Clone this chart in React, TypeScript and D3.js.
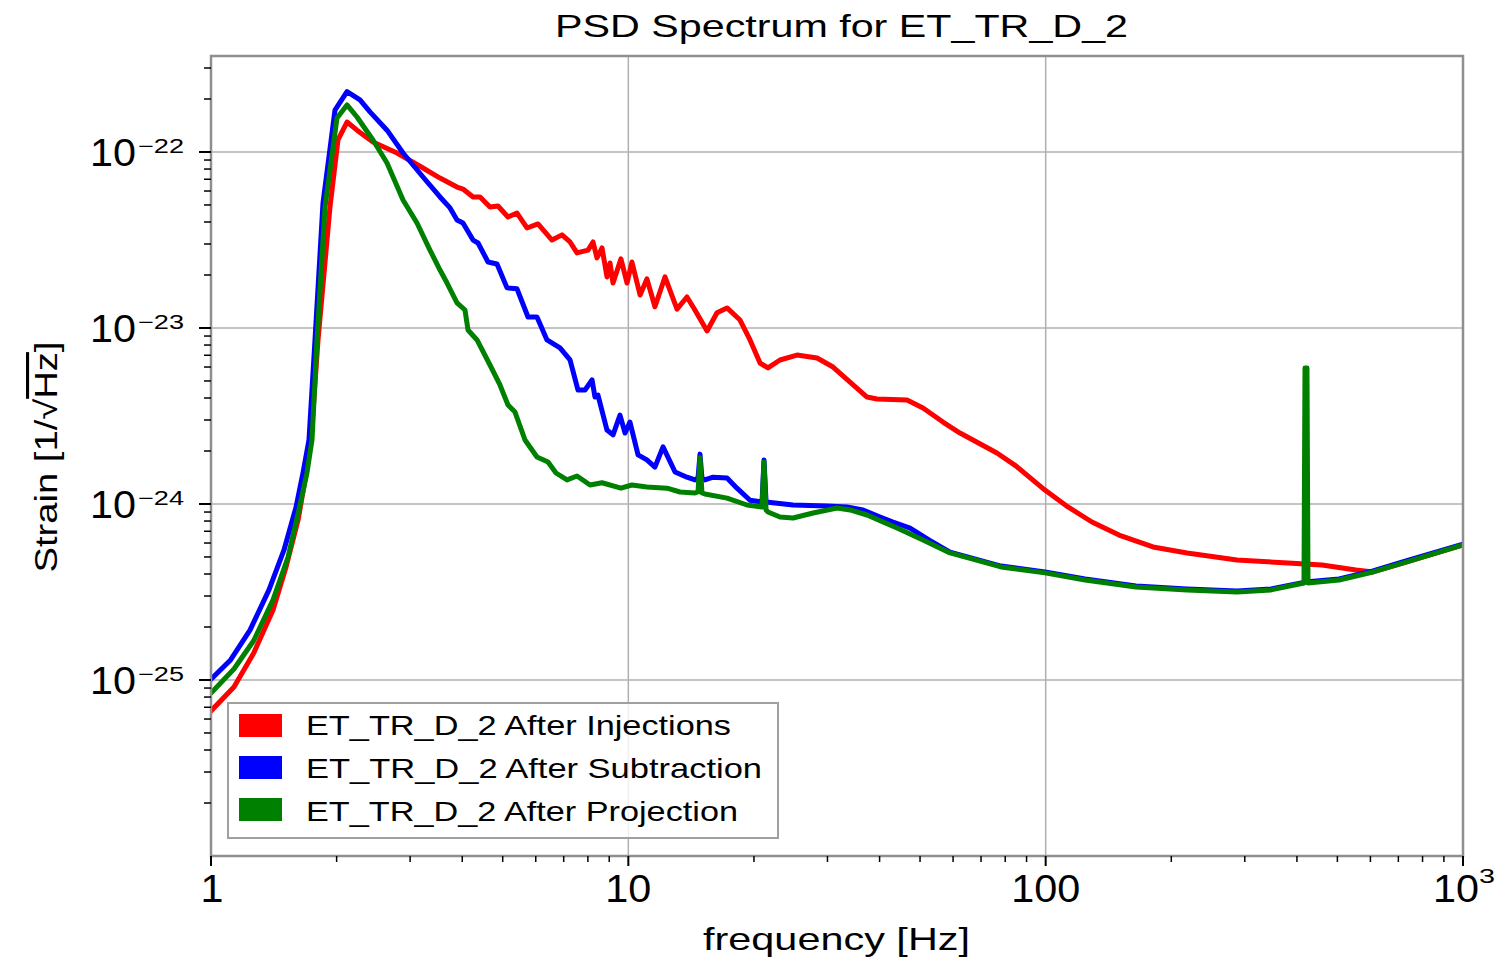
import React from "react";
import * as d3 from "d3";

// ---- Data (frequency in Hz, amplitude spectral density in units of 1e-24 / sqrt(Hz)) ----
const UNIT = 1e-24;

const redFreq = [1.00,1.135,1.265,1.408,1.513,1.617,1.68,1.736,1.805,1.928,2.015,2.118,2.238,2.444,2.791,3.221,3.538,3.886,4.016,4.245,4.412,4.661,4.872,5.149,5.411,5.717,6.074,6.563,6.935,7.249,7.534,8.006,8.23,8.411,8.65,8.889,9.04,9.19,9.60,9.93,10.20,10.67,11.08,11.58,12.24,13.08,13.82,14.44,15.44,16.31,17.24,18.52,19.57,20.68,21.61,23.09,25.36,28.33,30.94,33.98,37.32,39.44,46.54,50.83,56.75,62.34,76.43,85.0,99.6,113.1,129.1,149.9,180.8,218.2,287.4,380.8,459.4,554.1,608.6,730,1000];
const redAsd = [0.0667,0.0912,0.142,0.25,0.439,0.811,1.37,2.31,8.55,48.7,117,148,133,114,98.7,81.1,71.1,63.2,61.6,55.5,55.5,48.7,49.3,42.7,45.0,37.0,39.0,31.6,33.8,30.8,26.7,27.7,30.8,25.0,28.5,19.5,23.4,18.0,24.7,18.0,23.7,15.4,19.0,13.2,19.5,12.8,15.0,12.65,9.62,12.2,13.0,11.1,8.55,6.32,5.93,6.58,7.02,6.75,6.00,4.93,4.05,3.95,3.90,3.51,2.92,2.53,1.95,1.64,1.20,0.962,0.790,0.666,0.570,0.527,0.481,0.462,0.450,0.422,0.411,0.468,0.585];

const blueFreq = [1.00,1.114,1.24,1.377,1.496,1.599,1.661,1.717,1.775,1.855,1.982,2.118,2.275,2.404,2.641,2.885,3.221,3.538,3.739,3.886,4.016,4.245,4.364,4.611,4.845,5.121,5.411,5.749,6.041,6.384,6.859,7.249,7.576,7.874,8.185,8.32,8.457,8.889,9.19,9.55,9.82,10.09,10.55,11.08,11.58,12.11,12.94,13.82,14.44,14.69,14.85,15.01,15.26,15.96,17.24,18.21,19.57,20.91,21.14,21.38,24.81,29.94,33.42,36.5,40.10,43.08,47.32,52.5,58.99,78.17,99.6,124.3,164.6,218.2,287.4,346.7,418.2,504.7,608.6,730,1000];
const blueAsd = [0.101,0.130,0.192,0.325,0.548,0.962,1.50,2.31,8.55,51.3,173,220,197.5,169,133,98.7,72.1,55.5,48.1,41.1,39.5,31.6,30.4,23.7,23.1,16.9,16.7,11.55,11.55,8.55,7.70,6.58,4.44,4.44,5.07,4.05,4.16,2.63,2.47,3.20,2.53,2.92,1.90,1.78,1.62,2.11,1.52,1.42,1.37,1.405,1.92,1.405,1.37,1.42,1.405,1.23,1.05,1.026,1.78,1.026,0.987,0.974,0.962,0.925,0.844,0.790,0.730,0.6245,0.533,0.444,0.411,0.375,0.342,0.329,0.320,0.329,0.360,0.375,0.417,0.475,0.592];

const greenFreq = [1.00,1.135,1.265,1.408,1.53,1.630,1.698,1.746,1.795,1.876,2.004,2.118,2.238,2.444,2.641,2.885,3.116,3.347,3.538,3.678,3.886,4.061,4.129,4.34,4.661,4.925,5.149,5.351,5.655,6.041,6.42,6.71,7.13,7.534,8.095,8.65,9.60,10.20,11.08,12.38,13.30,14.44,14.69,14.85,15.01,15.26,17.24,19.25,20.91,21.14,21.38,21.61,23.09,24.81,27.71,31.63,33.98,37.32,40.77,44.04,50.83,58.99,78.17,99.6,124.3,164.6,218.2,287.4,346.7,415.9,418.2,422.8,425.2,504.7,608.6,730,1000];
const greenAsd = [0.0843,0.1155,0.167,0.285,0.5,0.962,1.50,2.31,8.55,48.7,156,185,158,117,86.6,53.4,39.5,27.7,21.35,18.0,13.9,12.65,9.74,8.55,6.16,4.745,3.65,3.33,2.31,1.85,1.73,1.50,1.37,1.443,1.282,1.32,1.23,1.282,1.25,1.23,1.17,1.155,1.17,1.83,1.155,1.14,1.08,0.987,0.962,1.73,0.925,0.901,0.844,0.833,0.889,0.949,0.925,0.866,0.790,0.730,0.6245,0.527,0.439,0.406,0.370,0.338,0.325,0.316,0.325,0.356,5.93,5.93,0.356,0.370,0.411,0.468,0.585];

const seriesNames = [
  "ET_TR_D_2 After Injections",
  "ET_TR_D_2 After Subtraction",
  "ET_TR_D_2 After Projection",
];
const seriesColors = ["#ff0000", "#0000ff", "#008000"];

const xTickLabels = [
  { v: 1, base: "1", sup: "" },
  { v: 10, base: "10", sup: "" },
  { v: 100, base: "100", sup: "" },
  { v: 1000, base: "10", sup: "3" },
];
const yTickExponents = [-22, -23, -24, -25];

const X_MIN = 1, X_MAX = 1000;
const Y_MIN = 1e-26, Y_MAX = 3.51e-22;

const FONT = "'Liberation Sans', Arial, Helvetica, sans-serif";

export default function App() {
  const W = 1501, H = 962;
  const L = 211, R = 1463, T = 56, B = 856;

  const x = d3.scaleLog().domain([X_MIN, X_MAX]).range([L, R]);
  const y = d3.scaleLog().domain([Y_MIN, Y_MAX]).range([B, T]);

  const isMajor = (v: number) => Math.abs(Math.log10(v) - Math.round(Math.log10(v))) < 1e-6;

  const xTicks = x.ticks();
  const yTicks = y.ticks();

  const mk = (fs: number[], vs: number[]) => fs.map((f, i) => [f, vs[i] * UNIT] as [number, number]);
  const series = [mk(redFreq, redAsd), mk(blueFreq, blueAsd), mk(greenFreq, greenAsd)];

  const line = d3
    .line<[number, number]>()
    .x((d) => x(d[0]))
    .y((d) => y(d[1]));

  const legendX = 228, legendY = 703, legendW = 550, legendH = 135;
  const legendLens = [425, 456, 432];

  return (
    <svg
      width={W}
      height={H}
      style={{ position: "absolute", left: 0, top: 0, background: "#fff" }}
      fontFamily={FONT}
    >
      <rect x={0} y={0} width={W} height={H} fill="#fff" />
      <defs>
        <clipPath id="plotclip">
          <rect x={L} y={T} width={R - L} height={B - T} />
        </clipPath>
      </defs>

      {/* grid */}
      <g stroke="#b0b0b0" strokeWidth={1.5}>
        {xTicks.filter(isMajor).map((t) => (
          <line key={"gx" + t} x1={x(t)} x2={x(t)} y1={T} y2={B} />
        ))}
        {yTicks.filter(isMajor).map((t) => (
          <line key={"gy" + t} x1={L} x2={R} y1={y(t)} y2={y(t)} />
        ))}
      </g>

      {/* series */}
      <g clipPath="url(#plotclip)" fill="none" strokeLinejoin="round" strokeLinecap="round">
        {series.map((s, i) => (
          <path key={i} d={line(s) || ""} stroke={seriesColors[i]} strokeWidth={5} />
        ))}
      </g>

      {/* frame */}
      <rect x={L} y={T} width={R - L} height={B - T} fill="none" stroke="#8f8f8f" strokeWidth={2.5} />

      {/* ticks */}
      <g stroke="#000">
        {xTicks.map((t) => (
          <line
            key={"tx" + t}
            x1={x(t)}
            x2={x(t)}
            y1={B}
            y2={B + (isMajor(t) ? 10 : 6)}
            strokeWidth={isMajor(t) ? 2 : 1.5}
          />
        ))}
        {yTicks.map((t) => (
          <line
            key={"ty" + t}
            x1={L}
            x2={L - (isMajor(t) ? 12 : 7)}
            y1={y(t)}
            y2={y(t)}
            strokeWidth={isMajor(t) ? 2 : 1.5}
          />
        ))}
      </g>

      {/* x tick labels */}
      <g fill="#000">
        {xTickLabels.map((tl) => {
          const px = x(tl.v);
          if (tl.sup) {
            return (
              <g key={"xl" + tl.v}>
                <text x={px - 30} y={902} fontSize={38} textLength={46} lengthAdjust="spacingAndGlyphs">
                  {tl.base}
                </text>
                <text x={px + 16} y={883} fontSize={21} textLength={16} lengthAdjust="spacingAndGlyphs">
                  {tl.sup}
                </text>
              </g>
            );
          }
          const len = tl.base.length === 1 ? 23 : tl.base.length === 2 ? 46 : 69;
          return (
            <text
              key={"xl" + tl.v}
              x={px - len / 2 + (tl.base.length === 1 ? 1 : 0)}
              y={902}
              fontSize={38}
              textLength={len}
              lengthAdjust="spacingAndGlyphs"
            >
              {tl.base}
            </text>
          );
        })}
      </g>

      {/* y tick labels */}
      <g fill="#000">
        {yTickExponents.map((e) => {
          const py = y(Math.pow(10, e));
          return (
            <g key={"yl" + e}>
              <text x={90} y={py + 14} fontSize={38} textLength={46} lengthAdjust="spacingAndGlyphs">
                10
              </text>
              <text x={138} y={py + 1} fontSize={20} textLength={46} lengthAdjust="spacingAndGlyphs">
                {"\u2212" + Math.abs(e)}
              </text>
            </g>
          );
        })}
      </g>

      {/* title */}
      <text x={555} y={37} fontSize={32} textLength={573} lengthAdjust="spacingAndGlyphs" fill="#000">
        PSD Spectrum for ET_TR_D_2
      </text>

      {/* x axis label */}
      <text x={703} y={950} fontSize={32} textLength={267} lengthAdjust="spacingAndGlyphs" fill="#000">
        frequency [Hz]
      </text>

      {/* y axis label */}
      <text
        transform="translate(57,457) rotate(-90)"
        textAnchor="middle"
        fontSize={31}
        textLength={231}
        lengthAdjust="spacingAndGlyphs"
        fill="#000"
      >
        Strain [1/√<tspan textDecoration="overline" style={{ textDecoration: "overline" }}>Hz</tspan>]
      </text>

      {/* legend */}
      <g>
        <rect
          x={legendX}
          y={legendY}
          width={legendW}
          height={legendH}
          fill="#fff"
          fillOpacity={0.8}
          stroke="#a0a0a0"
          strokeWidth={2}
        />
        {seriesNames.map((name, i) => (
          <g key={name}>
            <rect x={239} y={714 + i * 42} width={43} height={23} fill={seriesColors[i]} />
            <text
              x={306}
              y={735 + i * 43}
              fontSize={28}
              textLength={legendLens[i]}
              lengthAdjust="spacingAndGlyphs"
              fill="#000"
            >
              {name}
            </text>
          </g>
        ))}
      </g>
    </svg>
  );
}
